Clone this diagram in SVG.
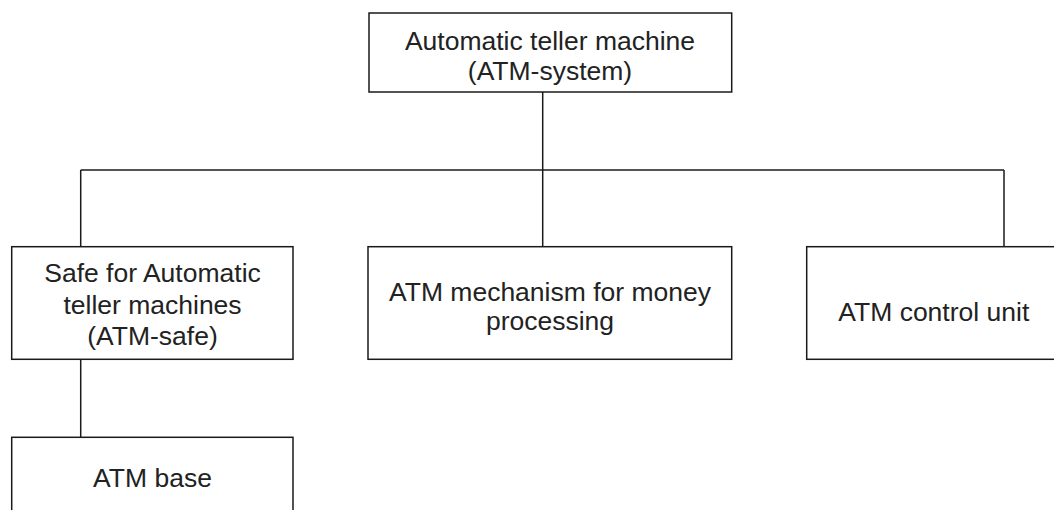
<svg xmlns="http://www.w3.org/2000/svg" width="1054" height="510" viewBox="0 0 1054 510">
  <style>
    .box { fill: #ffffff; stroke: #1a1a1a; stroke-width: 1.5; }
    .wire { fill: none; stroke: #1a1a1a; stroke-width: 1.5; }
    .lbl { font-family: "Liberation Sans", Arial, sans-serif; font-size: 26.5px; fill: #222222; text-anchor: middle; }
  </style>
  <rect width="1054" height="510" fill="#ffffff"/>

  <!-- connectors -->
  <g id="connectors">
    <path class="wire" d="M542.7,92 V170"/>
    <path class="wire" d="M80.7,170 H1004"/>
    <path class="wire" d="M80.7,170 V246.7"/>
    <path class="wire" d="M542.7,170 V246.7"/>
    <path class="wire" d="M1004,170 V246.7"/>
    <path class="wire" d="M80.7,359.3 V437.3"/>
  </g>

  <!-- root -->
  <g id="atm-system">
    <rect class="box" x="369" y="13" width="362.7" height="79"/>
    <text class="lbl" x="550" y="50">Automatic teller machine</text>
    <text class="lbl" x="550" y="80">(ATM-system)</text>
  </g>

  <g id="atm-safe">
    <rect class="box" x="11.7" y="246.7" width="281.3" height="112.6"/>
    <text class="lbl" x="152.5" y="282">Safe for Automatic</text>
    <text class="lbl" x="152.5" y="314">teller machines</text>
    <text class="lbl" x="152.5" y="345">(ATM-safe)</text>
  </g>

  <g id="atm-mechanism">
    <rect class="box" x="368" y="246.7" width="363.7" height="112.6"/>
    <text class="lbl" x="550" y="301">ATM mechanism for money</text>
    <text class="lbl" x="550" y="330">processing</text>
  </g>

  <g id="atm-control">
    <rect class="box" x="806.7" y="246.7" width="300" height="112.6"/>
    <text class="lbl" x="838.3" y="320.7" style="text-anchor:start">ATM control unit</text>
  </g>

  <g id="atm-base">
    <rect class="box" x="11.7" y="437.3" width="281.3" height="100"/>
    <text class="lbl" x="152.5" y="486.7">ATM base</text>
  </g>
</svg>
